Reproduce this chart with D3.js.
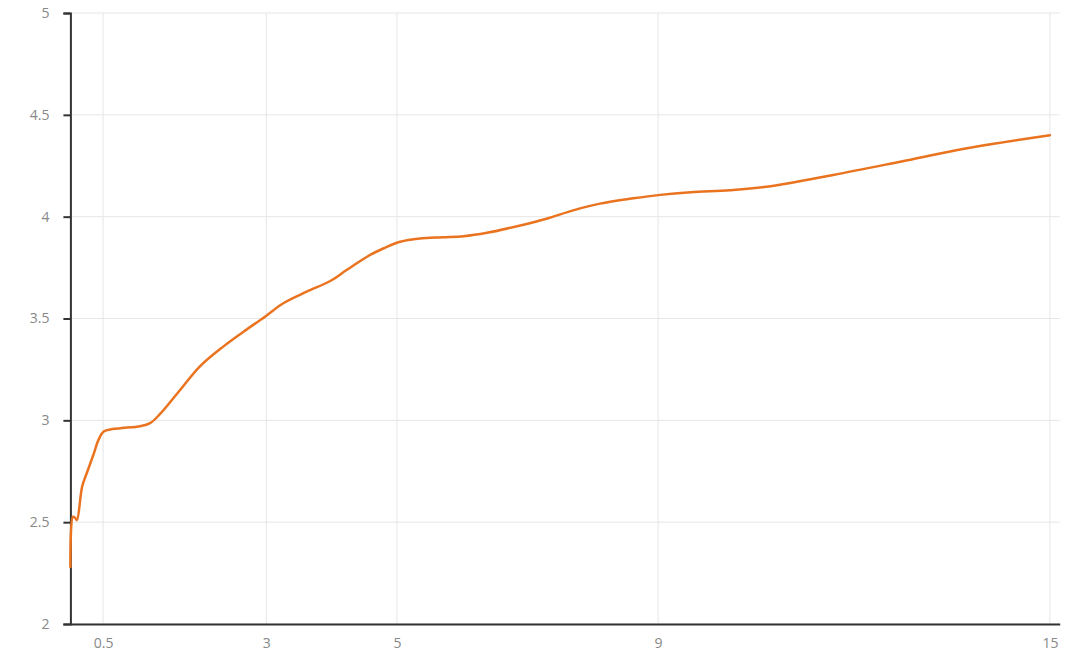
<!DOCTYPE html>
<html>
<head>
<meta charset="utf-8">
<script src="https://cdn.jsdelivr.net/npm/d3@7"></script>
<style>
  html, body { margin: 0; padding: 0; background: #fff; }
  svg { display: block; }
</style>
</head>
<body>
<svg id="chart" width="1080" height="670"></svg>
<script>
const tenors = [0, 0.04, 0.075, 0.1, 0.18, 0.25, 0.36, 0.43, 0.51, 0.64, 0.79, 1.07, 1.22, 1.37, 1.68, 1.98, 2.34, 2.65, 2.98, 3.26, 3.62, 3.98, 4.23, 4.59, 4.8, 5.05, 5.35, 5.7, 6.02, 6.38, 6.89, 7.29, 7.70, 8.11, 8.62, 9.03, 9.5, 10.1, 10.66, 11.68, 12.71, 13.73, 15.0];
const yields = [2.28, 2.527, 2.52, 2.51, 2.675, 2.74, 2.838, 2.904, 2.945, 2.957, 2.962, 2.971, 2.986, 3.03, 3.149, 3.264, 3.362, 3.435, 3.509, 3.575, 3.632, 3.684, 3.738, 3.812, 3.845, 3.877, 3.893, 3.899, 3.904, 3.921, 3.957, 3.99, 4.031, 4.064, 4.090, 4.107, 4.12, 4.13, 4.147, 4.205, 4.270, 4.336, 4.40];
const xTickValues = [0.5, 3, 5, 9, 15];
const xTickLabels = ["0.5", "3", "5", "9", "15"];
const yTickValues = [2, 2.5, 3, 3.5, 4, 4.5, 5];
const yTickLabels = ["2", "2.5", "3", "3.5", "4", "4.5", "5"];

(function () {
const svg = d3.select("#chart");
const pLeft = 70.4, pRight = 1059.7, pTop = 13, pBottom = 624;

const x = d3.scaleLinear().domain([0, 15.15]).range([pLeft, pRight]);
const y = d3.scaleLinear().domain([2, 5]).range([pBottom, pTop]);

const font = "'Open Sans', 'Noto Sans', sans-serif";

// horizontal grid
svg.append("g")
  .selectAll("line")
  .data(yTickValues)
  .join("line")
  .attr("x1", pLeft).attr("x2", pRight)
  .attr("y1", d => y(d)).attr("y2", d => y(d))
  .attr("stroke", "#e6e6e6").attr("stroke-width", 1);

// vertical grid
svg.append("g")
  .selectAll("line")
  .data(xTickValues)
  .join("line")
  .attr("x1", d => x(d)).attr("x2", d => x(d))
  .attr("y1", pTop).attr("y2", pBottom)
  .attr("stroke", "#e6e6e6").attr("stroke-width", 1);

// Y axis
const yAxis = d3.axisLeft(y)
  .tickValues(yTickValues)
  .tickFormat((d, i) => yTickLabels[i])
  .tickSize(7)
  .tickPadding(14);
const gy = svg.append("g").attr("transform", `translate(${pLeft},0)`).call(yAxis);
gy.select(".domain").attr("stroke", "#333").attr("stroke-width", 2);
gy.selectAll(".tick line").attr("stroke", "#333").attr("stroke-width", 2);
gy.selectAll(".tick text").attr("fill", "#888").style("font-family", font).style("font-size", "14px");

// X axis
const xAxis = d3.axisBottom(x)
  .tickValues(xTickValues)
  .tickFormat((d, i) => xTickLabels[i])
  .tickSize(0)
  .tickPadding(14);
const gx = svg.append("g").attr("transform", `translate(0,${pBottom})`).call(xAxis);
gx.select(".domain").attr("stroke", "#333").attr("stroke-width", 2);
gx.selectAll(".tick text").attr("fill", "#888").style("font-family", font).style("font-size", "14px");

// line
const data = tenors.map((t, i) => ({ t, v: yields[i] }));
const line = d3.line()
  .x(d => x(d.t))
  .y(d => y(d.v))
  .curve(d3.curveCatmullRom.alpha(0.5));

svg.append("path")
  .datum(data)
  .attr("d", line)
  .attr("fill", "none")
  .attr("stroke", "#ea7320")
  .attr("stroke-width", 2.5)
  .attr("stroke-linejoin", "round")
  .attr("stroke-linecap", "round");
})();
</script>
</body>
</html>
